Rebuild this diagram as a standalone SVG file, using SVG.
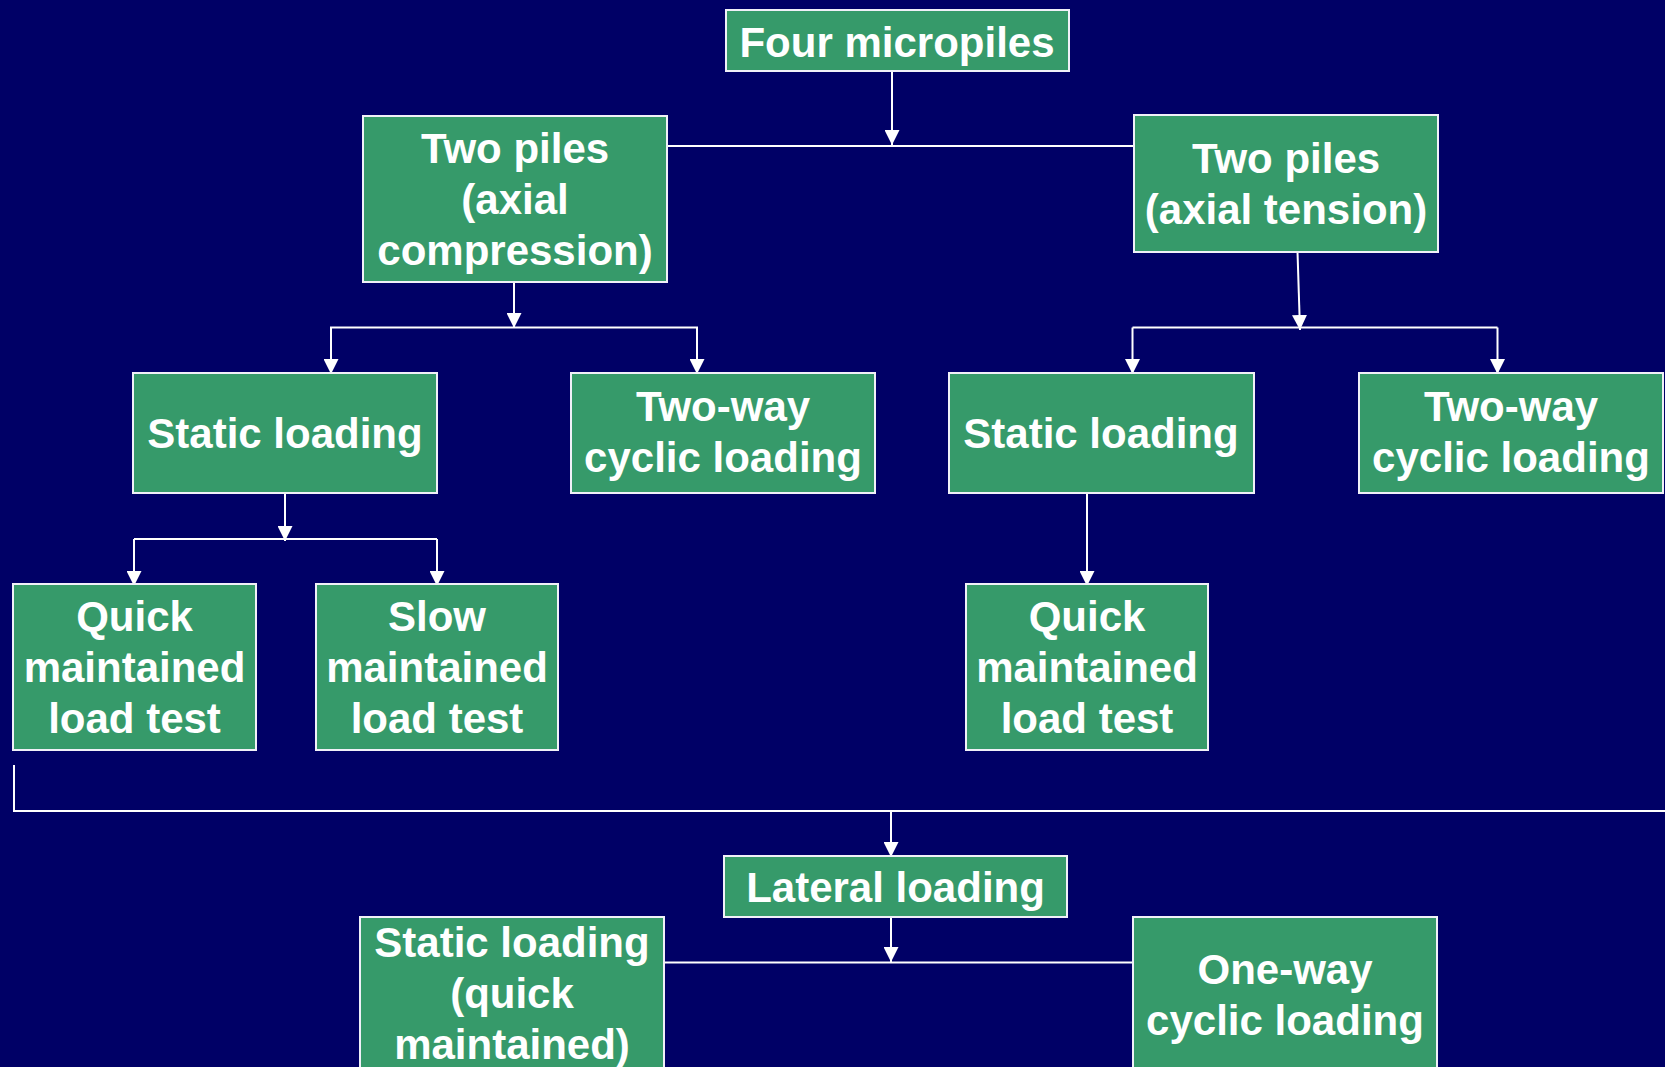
<svg xmlns="http://www.w3.org/2000/svg" width="1665" height="1067" viewBox="0 0 1665 1067">
<defs>
<style>
.box{fill:#369a6a;stroke:#f0f0f8;stroke-width:2}
.t{font-family:"Liberation Sans",Arial,sans-serif;font-weight:bold;font-size:42px;fill:#ffffff;text-anchor:middle}
.c{stroke:#ffffff;stroke-width:2;fill:none}
.a{stroke:#ffffff;stroke-width:2;fill:none;marker-end:url(#ah)}
</style>
<marker id="ah" markerUnits="userSpaceOnUse" markerWidth="15" markerHeight="15" refX="15" refY="7.5" orient="auto" viewBox="0 0 15 15">
<path d="M0,0 L15,7.5 L0,15 z" fill="#ffffff"/>
</marker>
</defs>
<rect width="1665" height="1067" fill="#000066"/>
<g id="connectors">
<line class="a" x1="892" y1="71" x2="892" y2="145"/>
<line class="c" x1="667" y1="146" x2="1134" y2="146"/>
<line class="a" x1="514" y1="282" x2="514" y2="328"/>
<polyline class="c" points="331,373 331,327.5 697,327.5 697,373"/>
<line class="a" x1="331" y1="327.5" x2="331" y2="374"/>
<line class="a" x1="697" y1="327.5" x2="697" y2="374"/>
<line class="a" x1="1297.5" y1="252" x2="1300" y2="330"/>
<line class="c" x1="1132.5" y1="327.5" x2="1497.5" y2="327.5"/>
<line class="a" x1="1132.5" y1="327.5" x2="1132.5" y2="374"/>
<line class="a" x1="1497.5" y1="327.5" x2="1497.5" y2="374"/>
<line class="a" x1="285" y1="493" x2="285" y2="541"/>
<line class="c" x1="134" y1="539" x2="437" y2="539"/>
<line class="a" x1="134" y1="539" x2="134" y2="586"/>
<line class="a" x1="437" y1="539" x2="437" y2="586"/>
<line class="a" x1="1087" y1="493" x2="1087" y2="586"/>
<polyline class="c" points="14,765 14,811 1665,811"/>
<line class="a" x1="891" y1="811" x2="891" y2="857"/>
<line class="a" x1="891" y1="917" x2="891" y2="962"/>
<line class="c" x1="664" y1="962.5" x2="1133" y2="962.5"/>
</g>
<g id="n-four">
<rect class="box" x="726" y="10" width="343" height="61"/>
<text class="t" x="897" y="57">Four micropiles</text>
</g>
<g id="n-comp">
<rect class="box" x="363" y="116" width="304" height="166"/>
<text class="t" x="515" y="163">Two piles</text>
<text class="t" x="515" y="214">(axial</text>
<text class="t" x="515" y="265">compression)</text>
</g>
<g id="n-tens">
<rect class="box" x="1134" y="115" width="304" height="137"/>
<text class="t" x="1286" y="173">Two piles</text>
<text class="t" x="1286" y="224">(axial tension)</text>
</g>
<g id="n-static-l">
<rect class="box" x="133" y="373" width="304" height="120"/>
<text class="t" x="285" y="448">Static loading</text>
</g>
<g id="n-twoway-l">
<rect class="box" x="571" y="373" width="304" height="120"/>
<text class="t" x="723" y="421">Two-way</text>
<text class="t" x="723" y="472">cyclic loading</text>
</g>
<g id="n-static-r">
<rect class="box" x="949" y="373" width="305" height="120"/>
<text class="t" x="1101" y="448">Static loading</text>
</g>
<g id="n-twoway-r">
<rect class="box" x="1359" y="373" width="304" height="120"/>
<text class="t" x="1511" y="421">Two-way</text>
<text class="t" x="1511" y="472">cyclic loading</text>
</g>
<g id="n-quick-l">
<rect class="box" x="13" y="584" width="243" height="166"/>
<text class="t" x="134.5" y="631">Quick</text>
<text class="t" x="134.5" y="682">maintained</text>
<text class="t" x="134.5" y="733">load test</text>
</g>
<g id="n-slow">
<rect class="box" x="316" y="584" width="242" height="166"/>
<text class="t" x="437" y="631">Slow</text>
<text class="t" x="437" y="682">maintained</text>
<text class="t" x="437" y="733">load test</text>
</g>
<g id="n-quick-r">
<rect class="box" x="966" y="584" width="242" height="166"/>
<text class="t" x="1087" y="631">Quick</text>
<text class="t" x="1087" y="682">maintained</text>
<text class="t" x="1087" y="733">load test</text>
</g>
<g id="n-lateral">
<rect class="box" x="724" y="856" width="343" height="61"/>
<text class="t" x="895.5" y="902">Lateral loading</text>
</g>
<g id="n-static-b">
<rect class="box" x="360" y="917" width="304" height="160"/>
<text class="t" x="512" y="957">Static loading</text>
<text class="t" x="512" y="1008">(quick</text>
<text class="t" x="512" y="1059">maintained)</text>
</g>
<g id="n-oneway">
<rect class="box" x="1133" y="917" width="304" height="160"/>
<text class="t" x="1285" y="984">One-way</text>
<text class="t" x="1285" y="1035">cyclic loading</text>
</g>
</svg>
